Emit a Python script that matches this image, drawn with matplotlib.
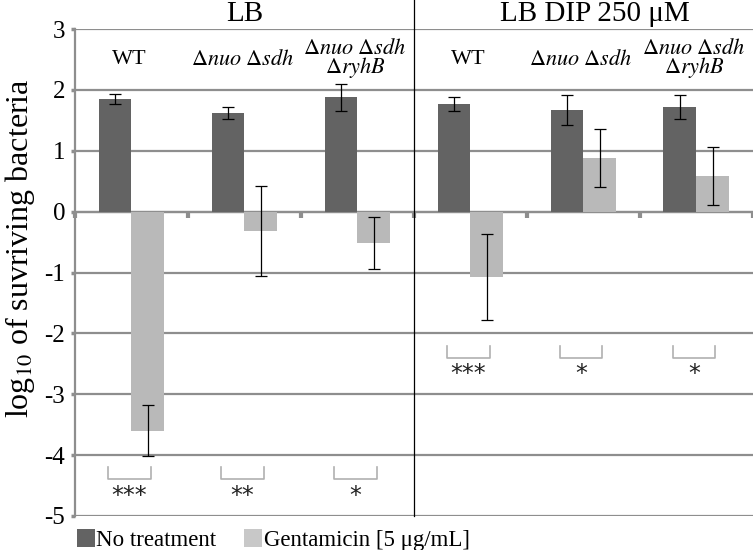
import numpy as np
import matplotlib
matplotlib.use('Agg')
import matplotlib.pyplot as plt
from matplotlib.patches import Patch

plt.rcParams['font.family'] = ['Liberation Serif', 'DejaVu Serif']
plt.rcParams['mathtext.fontset'] = 'stix'
plt.rcParams['axes.unicode_minus'] = False

# data
strains = ['WT', r'$\Delta nuo\ \Delta sdh$', '$\\Delta nuo\\ \\Delta sdh$\n$\\Delta ryhB$',
           'WT', r'$\Delta nuo\ \Delta sdh$', '$\\Delta nuo\\ \\Delta sdh$\n$\\Delta ryhB$']
conditions = ['LB', 'LB DIP 250 μM']
no_treat = [1.85, 1.62, 1.88, 1.77, 1.67, 1.72]
no_treat_err = [0.08, 0.10, 0.22, 0.11, 0.25, 0.20]
genta = [-3.60, -0.32, -0.52, -1.07, 0.88, 0.59]
genta_err = [0.42, 0.74, 0.43, 0.71, 0.48, 0.48]
stars = ['***', '**', '*', '***', '*', '*']
star_level = [-4.2, -4.2, -4.2, -2.2, -2.2, -2.2]

DARK = '#636363'
LIGHT = '#b9b9b9'
AXIS_GRAY = '#8e8e8e'

fig = plt.figure(figsize=(7.53, 5.5), dpi=100)
ax = fig.add_axes([0.0996, 0.062, 0.9, 0.885])

x = np.arange(len(strains))
w = 0.29
ax.bar(x - w / 2, no_treat, w, color=DARK, zorder=3)
ax.bar(x + w / 2, genta, w, color=LIGHT, zorder=3)
ax.errorbar(x - w / 2, no_treat, yerr=no_treat_err, fmt='none', ecolor='black',
            elinewidth=0.9, capsize=4, capthick=0.9, zorder=4)
ax.errorbar(x + w / 2, genta, yerr=genta_err, fmt='none', ecolor='black',
            elinewidth=0.9, capsize=4, capthick=0.9, zorder=4)

# significance brackets
for i, (s, lvl) in enumerate(zip(stars, star_level)):
    x0, x1 = i - 0.21, i + 0.17
    ax.plot([x0, x0, x1, x1], [lvl, lvl - 0.2, lvl - 0.2, lvl], color='#b0b0b0', lw=1.2, zorder=3)
    ax.text((x0 + x1) / 2, lvl - 0.27, s, ha='center', va='top', fontsize=17,
            family='DejaVu Sans', color='#222222')

# strain labels inside plot
for i, lab in enumerate(strains):
    ax.text(i - 0.02, 2.5, lab, ha='center', va='center', fontsize=16, linespacing=0.8)

ax.set_xlim(-0.5, 5.5)
ax.set_ylim(-5, 3)
ax.set_yticks(range(-5, 4))
ax.set_yticklabels([str(v) for v in range(-5, 4)], fontsize=18)
ax.yaxis.grid(True, color=AXIS_GRAY, lw=1.6, zorder=0)
ax.set_axisbelow(True)

ax.spines['top'].set_visible(False)
ax.spines['right'].set_visible(False)
ax.spines['left'].set_color(AXIS_GRAY)
ax.spines['left'].set_linewidth(1.6)
ax.spines['bottom'].set_position(('data', 0))
ax.spines['bottom'].set_color(AXIS_GRAY)
ax.spines['bottom'].set_linewidth(1.6)
ax.set_xticks(np.arange(-0.5, 6, 1.0))
ax.set_xticklabels([])
ax.tick_params(axis='x', direction='out', length=4, width=3, color=AXIS_GRAY)
ax.tick_params(axis='y', direction='out', length=3, width=2.5, color=AXIS_GRAY, pad=4)

ax.set_ylabel('log$_{10}$ of suvriving bacteria', fontsize=23)
ax.yaxis.set_label_coords(-0.056, 0.55)

# separator between conditions
ax.axvline(2.5, ymin=0, ymax=1.06, color='black', lw=0.9, clip_on=False, zorder=5)
ax.text(1.0, 3.13, conditions[0], ha='center', va='baseline', fontsize=21)
ax.text(4.1, 3.13, conditions[1], ha='center', va='baseline', fontsize=21)

handles = [Patch(facecolor=DARK, label='No treatment'),
           Patch(facecolor='#c8c8c8', label='Gentamicin [5 μg/mL]')]
fig.legend(handles=handles, loc='lower left', bbox_to_anchor=(0.09, -0.018), ncol=2,
           frameon=False, fontsize=16.5, handlelength=0.8, handleheight=0.8,
           handletextpad=0.05, columnspacing=1.2, borderaxespad=0.0)

fig.savefig('out.png', dpi=100)
